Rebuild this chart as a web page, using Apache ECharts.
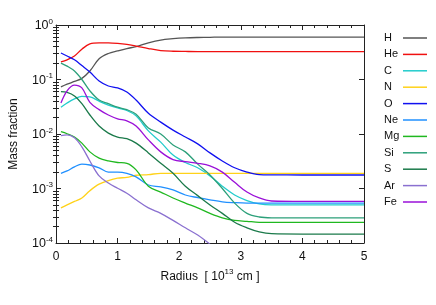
<!DOCTYPE html>
<html><head><meta charset="utf-8">
<script src="https://cdn.jsdelivr.net/npm/echarts@6/dist/echarts.min.js"></script>
<style>html,body{margin:0;padding:0;background:#fff}#c{width:436px;height:305px}</style>
</head><body><div id="c"></div>
<script>
// Radius in units of 1e13 cm
const radius = [0.08, 0.18, 0.3, 0.42, 0.55, 0.7, 0.85, 1.0, 1.15, 1.3, 1.5, 1.7, 1.9, 2.1, 2.3, 2.5, 2.7, 2.9, 3.1, 3.3, 3.5, 4.0, 4.5, 5.0];

const H  = [0.073, 0.082, 0.092, 0.105, 0.143, 0.24, 0.30, 0.335, 0.37, 0.40, 0.47, 0.53, 0.56, 0.58, 0.59, 0.595, 0.6, 0.6, 0.6, 0.6, 0.6, 0.6, 0.6, 0.6];
const He = [0.21, 0.23, 0.27, 0.36, 0.45, 0.47, 0.47, 0.46, 0.44, 0.41, 0.37, 0.34, 0.33, 0.327, 0.325, 0.325, 0.325, 0.325, 0.325, 0.325, 0.325, 0.325, 0.325, 0.325];
const C  = [0.031, 0.037, 0.044, 0.049, 0.048, 0.040, 0.034, 0.030, 0.027, 0.0215, 0.0114, 0.0071, 0.0041, 0.003, 0.0024, 0.0017, 0.0011, 0.00076, 0.0006, 0.00052, 0.0005, 0.0005, 0.0005, 0.0005];
const N  = [0.00044, 0.0005, 0.00058, 0.00067, 0.00091, 0.0012, 0.0014, 0.00155, 0.0016, 0.00175, 0.0018, 0.0019, 0.0019, 0.0019, 0.0019, 0.0019, 0.0019, 0.0019, 0.0019, 0.0019, 0.0019, 0.0019, 0.0019, 0.0019];
const O  = [0.306, 0.27, 0.23, 0.18, 0.137, 0.094, 0.076, 0.07, 0.059, 0.042, 0.024, 0.0165, 0.0118, 0.0088, 0.0066, 0.0045, 0.0032, 0.0024, 0.002, 0.0018, 0.00178, 0.00177, 0.00177, 0.00177];
const Ne = [0.0019, 0.0021, 0.0025, 0.0028, 0.0027, 0.0024, 0.002, 0.002, 0.0019, 0.00163, 0.00116, 0.00107, 0.00094, 0.00076, 0.00068, 0.00062, 0.00057, 0.00055, 0.00054, 0.00054, 0.00054, 0.00054, 0.00054, 0.00054];
const Mg = [0.011, 0.0101, 0.0088, 0.0068, 0.0047, 0.0036, 0.0032, 0.003, 0.0029, 0.0022, 0.0011, 0.00086, 0.00067, 0.00054, 0.00044, 0.00035, 0.00029, 0.00026, 0.00025, 0.00024, 0.00024, 0.00024, 0.00024, 0.00024];
const Si = [0.2, 0.176, 0.143, 0.1, 0.062, 0.042, 0.036, 0.031, 0.028, 0.023, 0.0129, 0.01, 0.0063, 0.0047, 0.0028, 0.00177, 0.001, 0.00054, 0.00035, 0.0003, 0.00029, 0.00029, 0.00029, 0.00029];
const S  = [0.06, 0.058, 0.05, 0.036, 0.0223, 0.014, 0.0104, 0.0088, 0.0082, 0.0068, 0.0045, 0.0029, 0.0019, 0.0011, 0.00074, 0.0005, 0.00035, 0.00024, 0.00019, 0.00016, 0.000148, 0.000146, 0.000146, 0.000146];
const Ar = [0.0093, 0.0096, 0.0085, 0.0058, 0.0032, 0.0017, 0.00126, 0.00101, 0.00082, 0.00062, 0.00044, 0.00035, 0.00026, 0.00019, 0.00014, 0.000095, null, null, null, null, null, null, null, null];
const Fe = [0.037, 0.062, 0.079, 0.07, 0.038, 0.028, 0.0223, 0.019, 0.0174, 0.014, 0.0078, 0.0047, 0.0034, 0.0031, 0.0029, 0.0026, 0.002, 0.0013, 0.00086, 0.00067, 0.00059, 0.00058, 0.00058, 0.00058];

const elements = ['H', 'He', 'C', 'N', 'O', 'Ne', 'Mg', 'Si', 'S', 'Ar', 'Fe'];
const values = {H, He, C, N, O, Ne, Mg, Si, S, Ar, Fe};
const colors = {
  H: '#555555', He: '#f01010', C: '#22cccc', N: '#ffd21a', O: '#1010f0',
  Ne: '#2090ff', Mg: '#20b820', Si: '#2ca07a', S: '#1b7a4a', Ar: '#8a70d0', Fe: '#9a10d8'
};

const xMin = 0, xMax = 5, xInterval = 1;
const yMin = 1e-4, yMax = 1;
// minor log ticks (2..9 in each decade), expressed as log10 exponent
const minorLogTicks = [];
for (let d = -4; d < 0; d++) for (let k = 2; k <= 9; k++) minorLogTicks.push(d + Math.log10(k));

const FONT = 'Liberation Sans, Arial, sans-serif';
const axisColor = '#222';

function xAxisDef(pos) {
  return {
    type: 'value', position: pos, min: xMin, max: xMax, interval: xInterval,
    axisLine: {show: true, onZero: false, lineStyle: {color: axisColor, width: 1}},
    axisTick: {show: true, inside: true, length: 5, lineStyle: {color: axisColor}},
    minorTick: {show: true, splitNumber: 5, length: 3, lineStyle: {color: axisColor}},
    axisLabel: {show: pos === 'bottom', fontSize: 12, color: '#111', margin: 8, fontFamily: FONT},
    splitLine: {show: false},
    name: pos === 'bottom' ? '{b|Radius  [ 10}{s|13}{b| cm ]}' : '',
    nameLocation: 'middle', nameGap: 24,
    nameTextStyle: {
      fontFamily: FONT, color: '#111',
      rich: {
        b: {fontSize: 12, fontFamily: FONT, color: '#111', lineHeight: 15, verticalAlign: 'bottom'},
        s: {fontSize: 8, fontFamily: FONT, color: '#111', lineHeight: 15, verticalAlign: 'top'}
      }
    }
  };
}
function logAxisDef(pos) {
  return {
    type: 'log', logBase: 10, position: pos, min: yMin, max: yMax,
    axisLine: {show: true, onZero: false, lineStyle: {color: axisColor, width: 1}},
    axisTick: {show: true, inside: true, length: 5, lineStyle: {color: axisColor}},
    axisLabel: {
      show: pos === 'left', margin: 3, fontFamily: FONT,
      formatter: v => '{b|10}{s|' + Math.round(Math.log10(v)) + '}',
      rich: {
        b: {fontSize: 12.5, fontFamily: FONT, color: '#111', lineHeight: 15, verticalAlign: 'bottom'},
        s: {fontSize: 8, fontFamily: FONT, color: '#111', lineHeight: 15, verticalAlign: 'top'}
      }
    },
    splitLine: {show: false},
    name: pos === 'left' ? 'Mass fraction' : '',
    nameLocation: 'middle', nameGap: 36, nameRotate: 90,
    nameTextStyle: {fontFamily: FONT, fontSize: 12, color: '#111'}
  };
}
function minorAxisDef(pos) {
  return {
    type: 'value', position: pos, min: -4, max: 0,
    axisLine: {show: false},
    axisTick: {show: true, inside: true, length: 3, customValues: minorLogTicks, lineStyle: {color: axisColor}},
    axisLabel: {show: false},
    splitLine: {show: false}
  };
}

const chart = echarts.init(document.getElementById('c'), null, {renderer: 'canvas'});
chart.setOption({
  animation: false,
  backgroundColor: '#fff',
  grid: {left: 52, right: 72, top: 25, bottom: 62, containLabel: false},
  xAxis: [xAxisDef('bottom'), xAxisDef('top')],
  yAxis: [logAxisDef('left'), minorAxisDef('left'), logAxisDef('right'), minorAxisDef('right')],
  legend: {
    orient: 'vertical', left: 379, top: 27, align: 'right',
    icon: 'rect', itemWidth: 24, itemHeight: 1.5, itemGap: 4.4,
    data: elements,
    formatter: '{a|{name}}',
    textStyle: {
      fontFamily: FONT, fontSize: 11, color: '#111', lineHeight: 12,
      rich: {a: {width: 14, align: 'left', fontSize: 11, fontFamily: FONT, color: '#111', lineHeight: 12}}
    }
  },
  series: elements.map(el => ({
    name: el, type: 'line', xAxisIndex: 0, yAxisIndex: 0,
    data: radius.map((r, i) => [r, values[el][i]]),
    smooth: 0.35, symbol: 'none', clip: true,
    lineStyle: {width: 1.3, color: colors[el]},
    itemStyle: {color: colors[el]}
  }))
});
</script></body></html>
